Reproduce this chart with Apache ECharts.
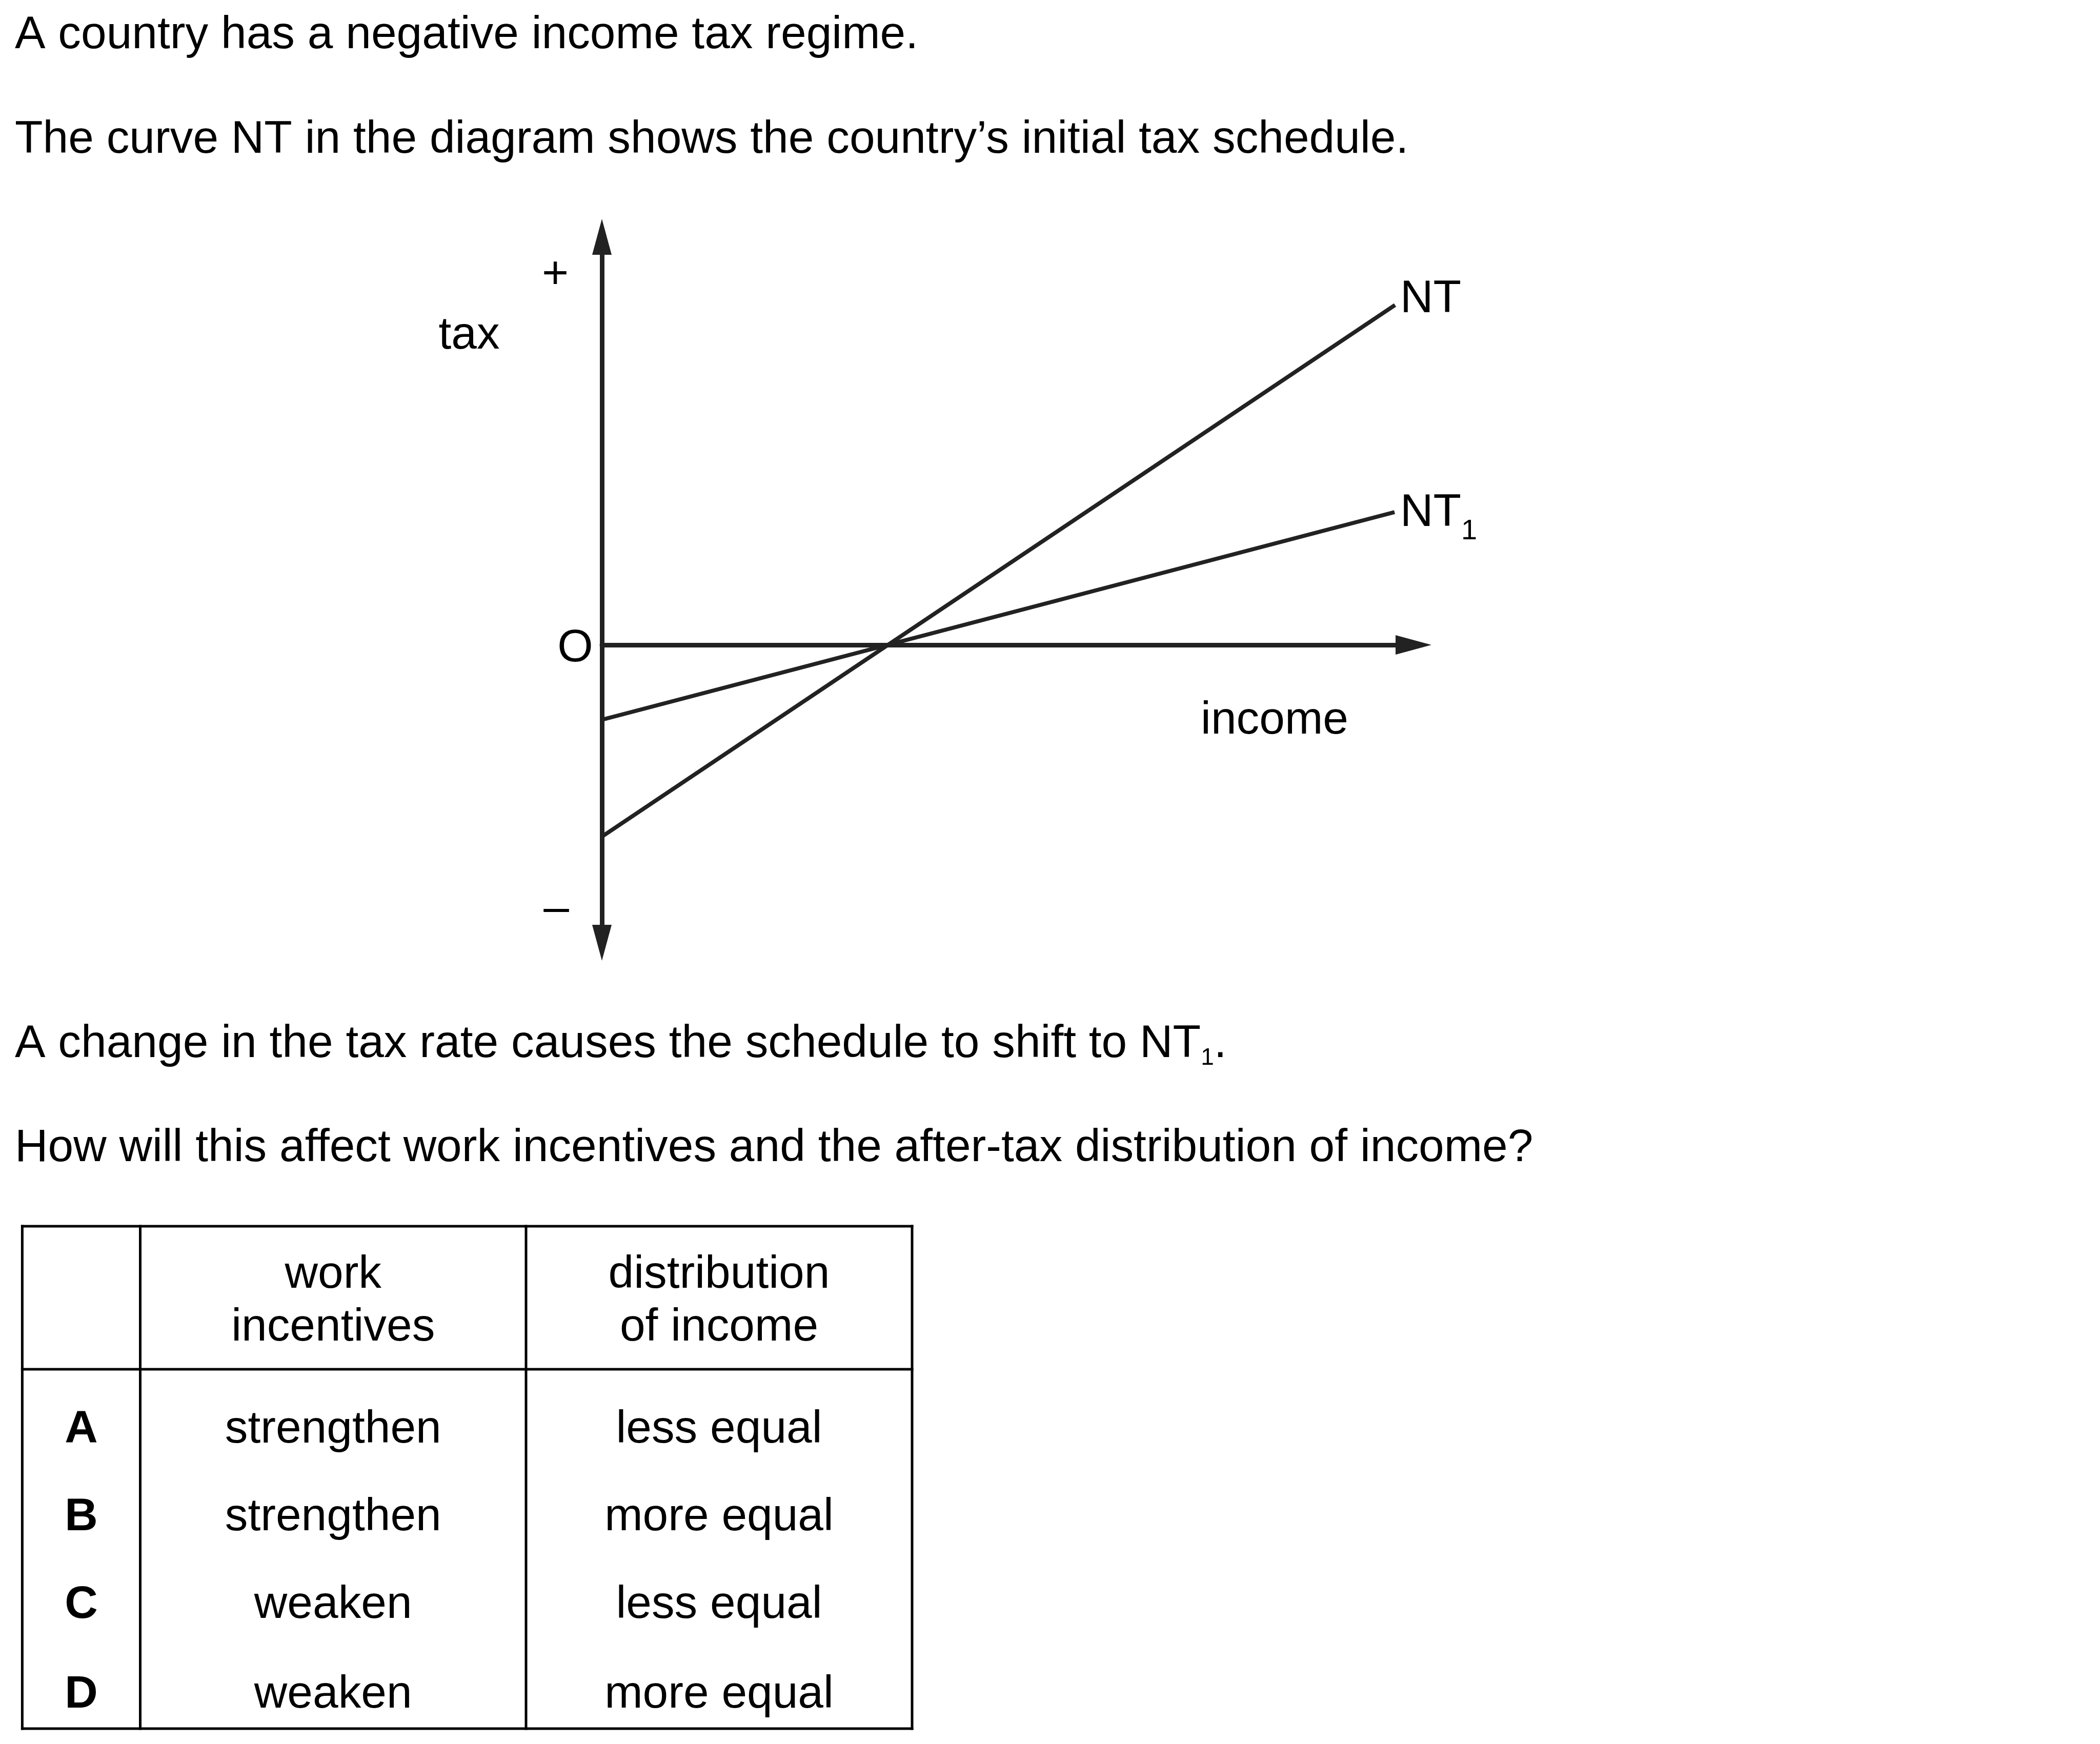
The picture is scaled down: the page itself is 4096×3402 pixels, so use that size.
<!DOCTYPE html>
<html><head><meta charset="utf-8">
<script src="https://cdn.jsdelivr.net/npm/echarts@6/dist/echarts.min.js"></script>
<style>html,body{margin:0;padding:0;background:#fff}#c{width:4096px;height:3402px}</style>
</head><body><div id="c"></div>
<script>
// ---------- data ----------
const introLines = [
  'A country has a negative income tax regime.',
  'The curve NT in the diagram shows the country\u2019s initial tax schedule.'
];
const shiftText = 'A change in the tax rate causes the schedule to shift to NT';
const shiftSub = '1';
const questionText = 'How will this affect work incentives and the after-tax distribution of income?';

const axisNames = { y: 'tax', x: 'income', origin: 'O', plus: '+', minus: '\u2013' };
const ntIncome = [0, 15.47];
const ntTax = [-3.74, 6.63];
const nt1Income = [0, 15.46];
const nt1Tax = [-1.46, 2.59];
const seriesNames = ['NT', 'NT'];
const seriesSubs = ['', '1'];

const headerWork = ['work', 'incentives'];
const headerDist = ['distribution', 'of income'];
const optionKeys = ['A', 'B', 'C', 'D'];
const workIncentives = ['strengthen', 'strengthen', 'weaken', 'weaken'];
const distribution = ['less equal', 'more equal', 'less equal', 'more equal'];

// ---------- layout ----------
const FONT = '"Liberation Sans", Arial, Helvetica, sans-serif';
const FS = 89.3;
const DY = 6;
const LINE = '#222';
const mid = (baseline, size) => baseline - 0.3465 * size;
const cv = document.createElement('canvas').getContext('2d');
const measure = (t, size, w) => { cv.font = (w || 'normal') + ' ' + size + 'px ' + FONT; return cv.measureText(t).width; };

function txt(text, x, y, opt) {
  opt = opt || {};
  const size = opt.size || FS;
  return {
    type: 'text', x: x, y: y + DY, silent: true,
    style: {
      text: text, fill: '#000', fontSize: size, fontFamily: FONT,
      fontWeight: opt.weight || 'normal',
      align: opt.align || 'left', verticalAlign: 'middle'
    }
  };
}

const graphics = [];
// paragraphs
const LX = 29;
graphics.push(txt(introLines[0], LX, mid(94, FS)));
graphics.push(txt(introLines[1], LX, mid(298, FS)));
const shW = measure(shiftText, FS);
graphics.push(txt(shiftText, LX, mid(2062, FS)));
graphics.push(txt(shiftSub, LX + shW, mid(2074, 46), { size: 46 }));
graphics.push(txt('.', LX + shW + measure(shiftSub, 46), mid(2062, FS)));
graphics.push(txt(questionText, LX, mid(2265, FS)));

// diagram labels
graphics.push(txt(axisNames.plus, 1083, 531, { align: 'center' }));
graphics.push(txt(axisNames.minus, 1085, 1768, { align: 'center' }));
graphics.push(txt(axisNames.origin, 1122, 1259, { align: 'center' }));
graphics.push(txt(axisNames.y, 915, mid(680, FS), { align: 'center' }));
graphics.push(txt(axisNames.x, 2486, mid(1431, FS), { align: 'center' }));
// curve labels
const labelBase = [609, 1026];
seriesNames.forEach((n, i) => {
  graphics.push(txt(n, 2731, mid(labelBase[i], FS)));
  if (seriesSubs[i]) graphics.push(txt(seriesSubs[i], 2731 + measure(n, FS), mid(labelBase[i] + 24, 56), { size: 56 }));
});

// table
const colX = [43.4, 273.5, 1026, 1779];
const rowY = [2392, 2671, 3372];
const BW = 5;
colX.forEach(x => graphics.push({ type: 'line', silent: true, shape: { x1: x, y1: rowY[0] - BW / 2, x2: x, y2: rowY[2] + BW / 2 }, style: { stroke: '#000', lineWidth: BW } }));
rowY.forEach(y => graphics.push({ type: 'line', silent: true, shape: { x1: colX[0] - BW / 2, y1: y, x2: colX[3] + BW / 2, y2: y }, style: { stroke: '#000', lineWidth: BW } }));
const cCenter = [(colX[0] + colX[1]) / 2, (colX[1] + colX[2]) / 2, (colX[2] + colX[3]) / 2];
const headBase = [2512, 2615];
headerWork.forEach((t, i) => graphics.push(txt(t, cCenter[1], mid(headBase[i], FS), { align: 'center' })));
headerDist.forEach((t, i) => graphics.push(txt(t, cCenter[2], mid(headBase[i], FS), { align: 'center' })));
const rowBase = [2814, 2985, 3156, 3331];
optionKeys.forEach((k, i) => {
  graphics.push(txt(k, cCenter[0], mid(rowBase[i], FS), { align: 'center', weight: 'bold' }));
  graphics.push(txt(workIncentives[i], cCenter[1], mid(rowBase[i], FS), { align: 'center' }));
  graphics.push(txt(distribution[i], cCenter[2], mid(rowBase[i], FS), { align: 'center' }));
});

const chart = echarts.init(document.getElementById('c'), null, { renderer: 'canvas', width: 4096, height: 3402 });
chart.setOption({
  animation: false,
  backgroundColor: '#fff',
  grid: { left: 1174, right: 4096 - 2757, top: 462, bottom: 3402 - 1839, containLabel: false },
  xAxis: {
    type: 'value', min: 0, max: 15.83,
    axisLine: { onZero: true, symbol: ['none', 'triangle'], symbolSize: [38, 70], lineStyle: { color: LINE, width: 9 } },
    axisTick: { show: false }, axisLabel: { show: false }, splitLine: { show: false }
  },
  yAxis: {
    type: 'value', min: -5.81, max: 7.96,
    axisLine: { show: true, onZero: true, symbol: ['triangle', 'triangle'], symbolSize: [38, 70], lineStyle: { color: LINE, width: 9 } },
    axisTick: { show: false }, axisLabel: { show: false }, splitLine: { show: false }
  },
  series: [
    { type: 'line', name: 'NT', data: ntIncome.map((x, i) => [x, ntTax[i]]), showSymbol: false, symbol: 'none', silent: true,
      lineStyle: { color: LINE, width: 8 } },
    { type: 'line', name: 'NT1', data: nt1Income.map((x, i) => [x, nt1Tax[i]]), showSymbol: false, symbol: 'none', silent: true,
      lineStyle: { color: LINE, width: 8 } }
  ],
  graphic: { elements: graphics }
});
</script></body></html>
